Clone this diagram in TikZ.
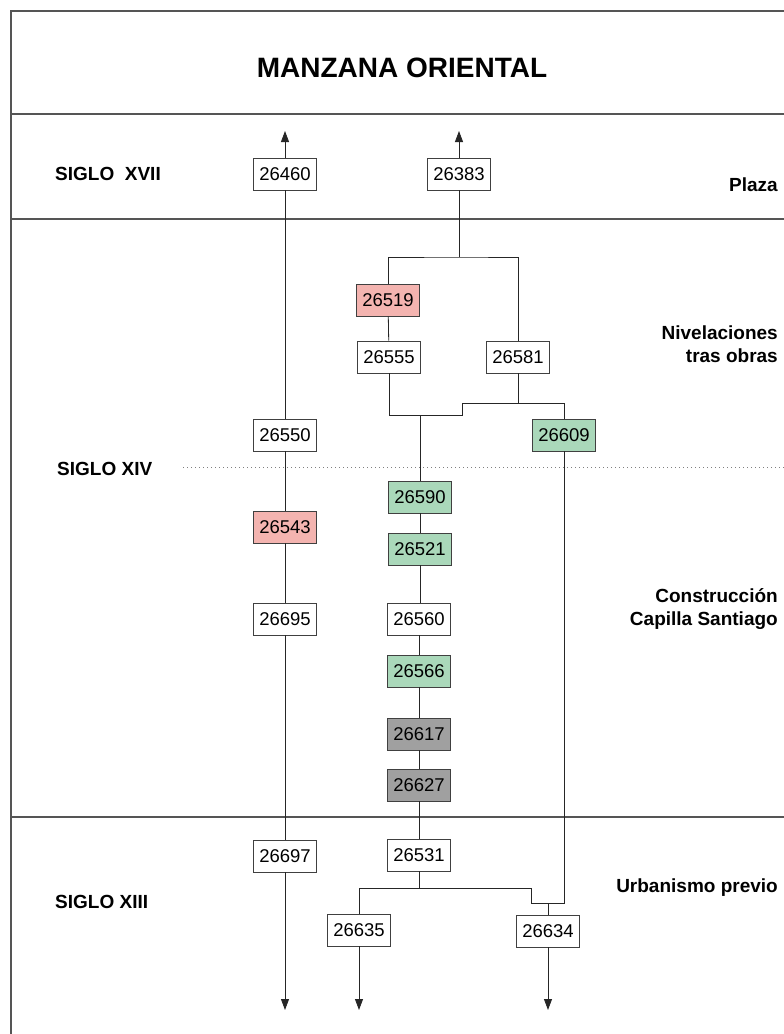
\documentclass[tikz,border=0pt]{standalone}
\usepackage{fontspec}
\setmainfont{Liberation Sans}
\usetikzlibrary{arrows.meta}
\definecolor{pinkf}{RGB}{244,180,176}
\definecolor{greenf}{RGB}{170,216,186}
\definecolor{grayf}{RGB}{160,160,160}
\definecolor{framec}{RGB}{85,85,85}
\begin{document}
\begin{tikzpicture}[x=1pt,y=-1pt,
  box/.style={draw=black!75, line width=0.9pt, minimum width=63pt, minimum height=32pt, inner sep=0pt, fill=white, font=\fontsize{18.5}{20}\selectfont},
  pinkbox/.style={box, fill=pinkf},
  greenbox/.style={box, fill=greenf},
  graybox/.style={box, fill=grayf},
  conn/.style={draw=black!85, line width=0.8pt},
  arr/.style={conn, -{Triangle[length=11pt,width=8pt]}},
  framel/.style={draw=framec, line width=1.3pt},
  lbl/.style={font=\fontsize{19}{23}\selectfont\bfseries, inner sep=0pt}
]
\useasboundingbox (0,0) rectangle (784,1034);
\fill[white] (0,0) rectangle (784,1034);
% frame
\draw[framel] (784,11) -- (11,11) -- (11,1034);
\draw[framel] (11,114) -- (784,114);
\draw[framel] (11,219) -- (784,219);
\draw[framel] (11,817) -- (784,817);
\draw[gray, line width=0.8pt, dash pattern=on 1pt off 3pt] (183,467) -- (784,467);
% texts
\node[lbl, font=\fontsize{28}{30}\selectfont\bfseries] (title) at (402,68) {MANZANA ORIENTAL};
\node[lbl, anchor=west] (s17) at (55,174) {SIGLO\ \ XVII};
\node[lbl, anchor=west] (s14) at (57,469) {SIGLO XIV};
\node[lbl, anchor=west] (s13) at (55,902) {SIGLO XIII};
\node[lbl, anchor=east] (plaza) at (778,185) {Plaza};
\node[lbl, anchor=east, align=right] (niv) at (778,344.5) {Nivelaciones\\tras obras};
\node[lbl, anchor=east, align=right] (cons) at (778,609.5) {Construcción\\Capilla Santiago};
\node[lbl, anchor=east] (urb) at (778,888) {Urbanismo previo};
% nodes
\node[box] (n26460) at (285,174) {26460};
\node[box] (n26383) at (459,174) {26383};
\node[pinkbox] (n26519) at (388,300) {26519};
\node[box] (n26555) at (389,357) {26555};
\node[box] (n26581) at (518,357) {26581};
\node[greenbox] (n26609) at (564,435) {26609};
\node[box] (n26550) at (285,435) {26550};
\node[greenbox] (n26590) at (420,497) {26590};
\node[pinkbox] (n26543) at (285,527) {26543};
\node[greenbox] (n26521) at (420,549) {26521};
\node[box] (n26695) at (285,619) {26695};
\node[box] (n26560) at (419,619) {26560};
\node[greenbox] (n26566) at (419,671) {26566};
\node[graybox] (n26617) at (419,734) {26617};
\node[graybox] (n26627) at (419,785) {26627};
\node[box] (n26697) at (285,856) {26697};
\node[box] (n26531) at (419,855) {26531};
\node[box] (n26635) at (359,930) {26635};
\node[box] (n26634) at (548,931) {26634};
% coordinates
\coordinate (up1) at (285,131);
\coordinate (up2) at (459,131);
\coordinate (f1) at (459,257);
\coordinate (j1) at (462,415);
\coordinate (j2) at (462,403);
\coordinate (m1) at (420,415);
\coordinate (m3) at (518,403);
\coordinate (k2) at (531,903);
\coordinate (k3) at (531,888);
\coordinate (k4) at (419,888);
\coordinate (k5) at (548,903);
\coordinate (dn1) at (285,1010);
\coordinate (dn2) at (359,1010);
\coordinate (dn3) at (548,1010);
% left column
\draw[arr] (n26460.north) -- (up1);
\draw[conn] (n26460) -- (n26550);
\draw[conn] (n26550) -- (n26543);
\draw[conn] (n26543) -- (n26695);
\draw[conn] (n26695) -- (n26697);
\draw[arr] (n26697.south) -- (dn1);
% middle
\draw[arr] (n26383.north) -- (up2);
\draw[conn] (n26383.south) -- (f1);
\draw[conn] (n26519.north) |- (f1) -| (n26581.north);
\draw[conn] (n26519) -- (n26555);
\draw[conn] (n26555.south) |- (j1) -- (j2) -| (n26609.north);
\draw[conn] (n26581.south) -- (m3);
\draw[conn] (m1) -- (n26590.north);
\draw[conn] (n26590) -- (n26521);
\draw[conn] (n26521.south) -- (n26521.south |- n26560.north);
\draw[conn] (n26560) -- (n26566);
\draw[conn] (n26566) -- (n26617);
\draw[conn] (n26617) -- (n26627);
\draw[conn] (n26627) -- (n26531);
\draw[conn] (n26531.south) -- (k4);
\draw[conn] (n26609.south) |- (k2) -- (k3) -| (n26635.north);
\draw[conn] (k5) -- (n26634.north);
\draw[arr] (n26635.south) -- (dn2);
\draw[arr] (n26634.south) -- (dn3);
\end{tikzpicture}
\end{document}
